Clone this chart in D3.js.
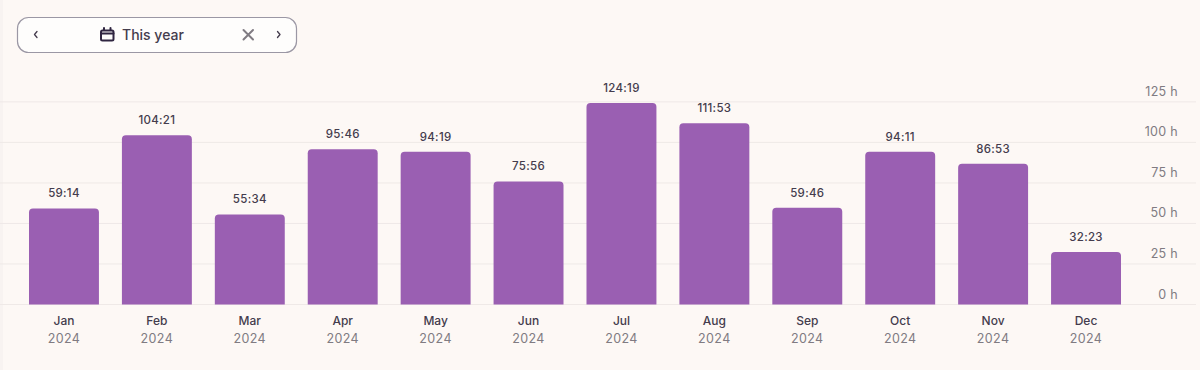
<!DOCTYPE html>
<html><head><meta charset="utf-8">
<script src="https://cdn.jsdelivr.net/npm/d3@7"></script>
<style>
html,body{margin:0;padding:0;background:#fdf8f5;overflow:hidden}
text{font-family:Inter,"Noto Sans",sans-serif}
</style></head><body>
<svg id="c" width="1200" height="370" style="display:block"></svg>
<script>
const months=["Jan","Feb","Mar","Apr","May","Jun","Jul","Aug","Sep","Oct","Nov","Dec"];
const years=["2024","2024","2024","2024","2024","2024","2024","2024","2024","2024","2024","2024"];
const durations=["59:14","104:21","55:34","95:46","94:19","75:56","124:19","111:53","59:46","94:11","86:53","32:23"];
const yTicks=[0,25,50,75,100,125];
const rangeLabel="This year";

const toHours=s=>{const [h,m]=s.split(":").map(Number);return h+m/60;};
const svg=d3.select("#c");
const ink="#443c4d", muted="#807b82";
svg.append("rect").attr("width",1200).attr("height",370).attr("fill","#fdf8f5");
svg.append("rect").attr("width",3).attr("height",370).attr("fill","#f8f3f1");

const x=d3.scaleBand().domain(months).range([29,1121]).paddingInner(0.2473).paddingOuter(0);
const y=d3.scaleLinear().domain([0,125]).range([304.5,101.9]);

svg.append("g").selectAll("line").data(yTicks).join("line")
  .attr("x1",0).attr("x2",1196).attr("y1",d=>y(d)).attr("y2",d=>y(d))
  .attr("stroke","#efe9e7").attr("stroke-width",1);
svg.append("g").selectAll("text").data(yTicks).join("text")
  .attr("x",1178).attr("y",d=>y(d)-6).attr("text-anchor","end")
  .attr("font-size",12.5).attr("fill",muted).attr("letter-spacing",0.3).text(d=>d+" h");

const barPath=d=>{
  const x0=x(d.m),w=x.bandwidth(),t=y(d.h),b=y(0),r=4;
  return `M${x0},${b}V${t+r}Q${x0},${t} ${x0+r},${t}H${x0+w-r}Q${x0+w},${t} ${x0+w},${t+r}V${b}Z`;
};
const rows=months.map((m,i)=>({m,yr:years[i],lab:durations[i],h:toHours(durations[i])}));
svg.append("g").selectAll("path").data(rows).join("path").attr("d",barPath).attr("fill","#9a5fb2");
svg.append("g").selectAll("text").data(rows).join("text")
  .attr("x",d=>x(d.m)+x.bandwidth()/2).attr("y",d=>y(d.h)-11).attr("text-anchor","middle")
  .attr("font-size",11.5).attr("font-weight",500).attr("fill",ink).attr("letter-spacing",0.3).text(d=>d.lab);
svg.append("g").selectAll("text").data(rows).join("text")
  .attr("x",d=>x(d.m)+x.bandwidth()/2).attr("y",325).attr("text-anchor","middle")
  .attr("font-size",12).attr("font-weight",500).attr("fill",ink).text(d=>d.m);
svg.append("g").selectAll("text").data(rows).join("text")
  .attr("x",d=>x(d.m)+x.bandwidth()/2).attr("y",343).attr("text-anchor","middle")
  .attr("font-size",12.5).attr("fill",muted).attr("letter-spacing",0.4).text(d=>d.yr);

// date-range control
const g=svg.append("g");
g.append("rect").attr("x",17.5).attr("y",17.5).attr("width",279).attr("height",35).attr("rx",11)
  .attr("fill","#fefdfc").attr("stroke","#9b97a4").attr("stroke-width",1.2);
const icon=(d,c,w)=>g.append("path").attr("d",d).attr("fill","none").attr("stroke",c).attr("stroke-width",w).attr("stroke-linecap","round").attr("stroke-linejoin","round");
icon("M37,31.5 L34.5,34.5 L37,37.5",ink,1.3);
icon("M277.5,31.5 L280,34.5 L277.5,37.5",ink,1.3);
icon("M243.5,30 L253,39.5 M253,30 L243.5,39.5",muted,2);
g.append("rect").attr("x",101).attr("y",30.5).attr("width",12.5).attr("height",10).attr("rx",1.5)
  .attr("fill","none").attr("stroke","#2f2540").attr("stroke-width",2);
icon("M101,33.5 H113.5 M104,28 V30 M110.5,28 V30","#2f2540",2);
g.append("text").attr("x",122).attr("y",39.5).attr("font-size",14).attr("font-weight",500).attr("fill",ink).text(rangeLabel);
</script></body></html>
